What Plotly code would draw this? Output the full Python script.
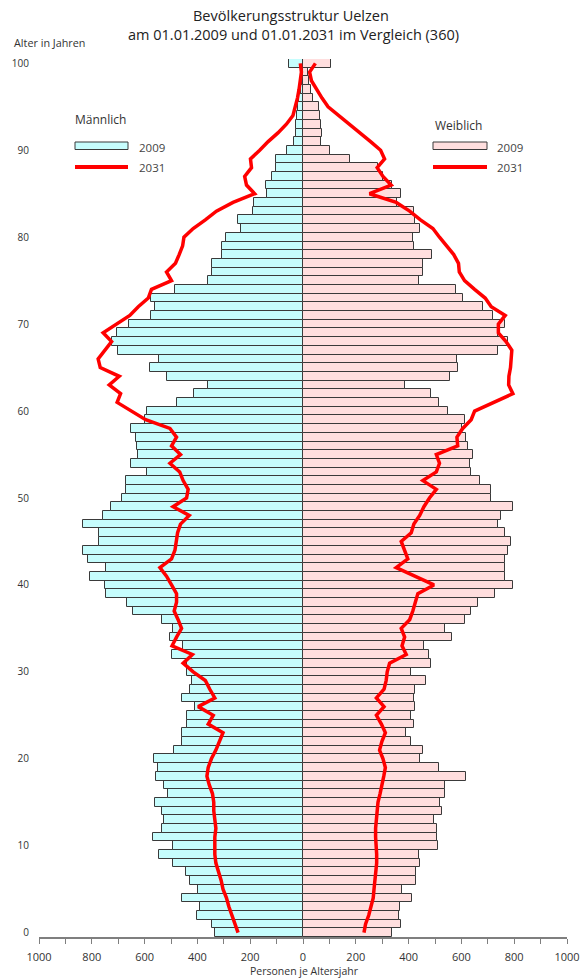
import plotly.graph_objects as go

ages = list(range(0, 101))

male_2009 = [334, 343, 403, 391, 460, 397, 429, 444, 492, 545,
             492, 570, 536, 526, 536, 561, 511, 526, 556, 551,
             565, 487, 460, 460, 439, 439, 410, 458, 429, 419,
             439, 441, 498, 454, 504, 494, 536, 645, 668, 746,
             750, 805, 746, 813, 835, 772, 772, 835, 759, 728,
             687, 671, 671, 590, 652, 624, 630, 633, 653, 599,
             590, 479, 413, 359, 517, 580, 546, 700, 725, 706,
             658, 577, 561, 574, 483, 359, 343, 343, 306, 306,
             292, 233, 246, 191, 185, 136, 141, 116, 101, 101,
             59, 34, 25, 25, 22, 19, 15, 6, 3, 3,
             53]

male_2031 = [246, 258, 271, 281, 290, 303, 310, 320, 330, 334,
             335, 334, 330, 334, 338, 338, 343, 355, 364, 359,
             347, 330, 315, 303, 359, 340, 397, 334, 353, 370,
             416, 454, 419, 496, 479, 460, 473, 488, 479, 479,
             498, 517, 542, 498, 485, 480, 475, 464, 431, 492,
             441, 435, 454, 467, 504, 464, 498, 479, 504, 596,
             650, 704, 691, 734, 696, 768, 776, 750, 725, 757,
             704, 656, 624, 586, 574, 498, 517, 483, 469, 456,
             451, 416, 370, 328, 265, 183, 214, 221, 195, 199,
             164, 132, 95, 63, 38, 28, 21, 15, 10, 6,
             10]

female_2009 = [337, 370, 365, 366, 413, 375, 429, 429, 444, 438,
               513, 508, 508, 498, 527, 518, 536, 536, 616, 517,
               445, 454, 410, 391, 419, 410, 425, 420, 425, 467,
               410, 483, 477, 458, 565, 536, 614, 635, 662, 728,
               797, 766, 766, 766, 776, 786, 766, 738, 751, 797,
               713, 713, 669, 637, 631, 643, 624, 618, 602, 614,
               551, 517, 483, 385, 558, 586, 583, 740, 776, 740,
               766, 719, 681, 605, 578, 439, 454, 454, 488, 420,
               416, 444, 423, 419, 357, 370, 337, 303, 284, 177,
               103, 69, 72, 69, 63, 59, 38, 29, 22, 19,
               105]

female_2031 = [231, 237, 249, 259, 266, 269, 272, 278, 279, 279,
               276, 275, 275, 278, 280, 284, 292, 300, 306, 312,
               303, 290, 299, 312, 297, 278, 307, 278, 307, 315,
               319, 328, 391, 375, 385, 372, 404, 416, 426, 435,
               496, 423, 353, 397, 385, 372, 410, 420, 442, 458,
               479, 505, 454, 505, 517, 505, 586, 583, 605, 637,
               650, 719, 795, 779, 780, 786, 788, 791, 769, 740,
               740, 766, 713, 690, 650, 612, 592, 589, 571, 542,
               517, 492, 445, 404, 353, 252, 334, 303, 281, 309,
               294, 256, 215, 177, 135, 95, 72, 51, 32, 25,
               47]

x_tick_vals = [-1000, -800, -600, -400, -200, 0, 200, 400, 600, 800, 1000]
x_tick_text = [str(abs(v)) for v in x_tick_vals]
x_minor_vals = [-900, -700, -500, -300, -100, 100, 300, 500, 700, 900]
y_tick_vals = list(range(0, 101, 10))

title_line1 = "Bevölkerungsstruktur Uelzen"
title_line2 = "am 01.01.2009 und 01.01.2031 im Vergleich (360)"
y_title = "Alter in Jahren"
x_title = "Personen je Altersjahr"

MALE_FILL = "#c6fdfd"
FEMALE_FILL = "#ffdede"
OUTLINE = "#3a3a3a"
RED = "#ff0000"
TXT = "#333333"
FONT = "Open Sans"

W, H = 581, 979
L, R, T, B = 39, 567, 59, 937


def px(xp):
    return (xp - L) / (R - L)


def py(yp):
    return (B - yp) / (B - T)


fig = go.Figure()

fig.add_trace(go.Bar(
    y=ages, x=[-v for v in male_2009], orientation="h", width=1,
    marker=dict(color=MALE_FILL, line=dict(color=OUTLINE, width=1)),
    name="Männlich 2009", showlegend=False, hoverinfo="skip"))
fig.add_trace(go.Bar(
    y=ages, x=female_2009, orientation="h", width=1,
    marker=dict(color=FEMALE_FILL, line=dict(color=OUTLINE, width=1)),
    name="Weiblich 2009", showlegend=False, hoverinfo="skip"))
fig.add_trace(go.Scatter(
    y=ages, x=[-v for v in male_2031], mode="lines",
    line=dict(color=RED, width=3.5), name="Männlich 2031", showlegend=False))
fig.add_trace(go.Scatter(
    y=ages, x=female_2031, mode="lines",
    line=dict(color=RED, width=3.5), name="Weiblich 2031", showlegend=False))

annotations = [
    dict(text=title_line1, x=px(291), y=py(15), font=dict(size=14.5, color="#222222")),
    dict(text=title_line2, x=px(293), y=py(34), font=dict(size=14.5, color="#222222")),
    dict(text=y_title, x=px(12), y=py(42), xanchor="left", font=dict(size=10.8, color=TXT)),
    dict(text=x_title, x=px(304), y=py(971), font=dict(size=10.5, color=TXT)),
    dict(text="Männlich", x=px(73), y=py(119), xanchor="left", font=dict(size=12, color=TXT)),
    dict(text="2009", x=px(137), y=py(147), xanchor="left", font=dict(size=11.5, color="#444444")),
    dict(text="2031", x=px(137), y=py(167), xanchor="left", font=dict(size=11.5, color="#444444")),
    dict(text="Weiblich", x=px(433), y=py(125), xanchor="left", font=dict(size=12, color=TXT)),
    dict(text="2009", x=px(495), y=py(147), xanchor="left", font=dict(size=11.5, color="#444444")),
    dict(text="2031", x=px(495), y=py(167), xanchor="left", font=dict(size=11.5, color="#444444")),
]
for a in annotations:
    a.update(xref="paper", yref="paper", showarrow=False)
    a.setdefault("xanchor", "center")
    a["yanchor"] = "middle"

shapes = [
    dict(type="rect", x0=px(75), x1=px(128), y0=py(149.5), y1=py(142),
         fillcolor=MALE_FILL, line=dict(color=OUTLINE, width=1)),
    dict(type="line", x0=px(75), x1=px(128), y0=py(167), y1=py(167),
         line=dict(color=RED, width=4)),
    dict(type="rect", x0=px(433), x1=px(487), y0=py(149.5), y1=py(142),
         fillcolor=FEMALE_FILL, line=dict(color=OUTLINE, width=1)),
    dict(type="line", x0=px(433), x1=px(487), y0=py(167), y1=py(167),
         line=dict(color=RED, width=4)),
]
for s in shapes:
    s.update(xref="paper", yref="paper")

fig.update_layout(
    width=W, height=H, autosize=False,
    margin=dict(l=L, r=W - R, t=T, b=H - B, pad=0, autoexpand=False),
    paper_bgcolor="white", plot_bgcolor="white",
    barmode="overlay", bargap=0,
    font=dict(family=FONT, size=11, color=TXT),
    annotations=annotations, shapes=shapes,
    showlegend=False,
)
fig.update_xaxes(
    range=[-1000, 1000], tickvals=x_tick_vals, ticktext=x_tick_text,
    ticks="outside", ticklen=5, tickcolor="#7f7f7f", tickwidth=1,
    minor=dict(tickvals=x_minor_vals, ticks="outside", ticklen=5,
               tickcolor="#7f7f7f", tickwidth=1),
    showline=True, linecolor="#7f7f7f", linewidth=1.5,
    showgrid=False, zeroline=True, zerolinecolor="#111111", zerolinewidth=1,
    tickfont=dict(size=11, color=TXT), ticklabelstandoff=4,
    automargin=False, fixedrange=True,
)
fig.update_yaxes(
    range=[-0.5, 100.5], tickvals=y_tick_vals,
    showline=False, showgrid=False, zeroline=False, ticks="",
    tickfont=dict(size=10, color=TXT), ticklabelstandoff=9,
    automargin=False, fixedrange=True,
)

fig.write_html(
    "out.html",
    config={"displayModeBar": False},
    post_script="document.body.style.margin='0';document.body.style.overflow='hidden';",
)
